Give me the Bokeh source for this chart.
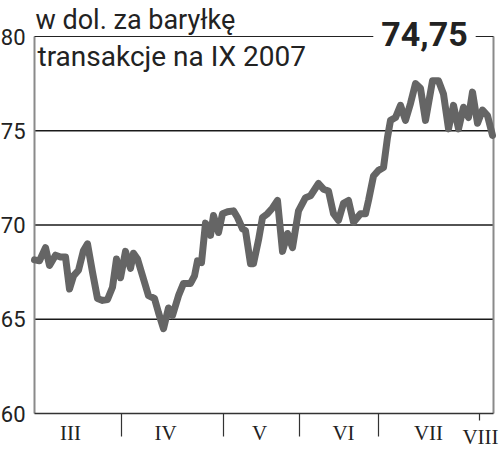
from bokeh.plotting import figure
from bokeh.models import Range1d, Label
from bokeh.embed import file_html
from bokeh.resources import INLINE

# trading-day position (units along the time axis) and price in USD per barrel
days = [0.0, 1.0, 2.2, 3.0, 4.2, 5.2, 6.2, 7.0, 7.8, 8.8, 9.8, 10.6, 11.6, 12.6, 13.6,
        14.6, 15.6, 16.4, 17.2, 18.2, 19.2, 19.8, 20.6, 22.8, 24.0, 24.8, 25.8, 26.8,
        27.6, 28.8, 29.8, 31.2, 32.0, 32.6, 33.4, 34.2, 35.2, 35.8, 36.8, 37.6, 38.6,
        39.8, 40.6, 41.6, 42.2, 43.2, 43.8, 44.8, 45.6, 46.6, 47.6, 48.6, 49.6, 50.6,
        51.6, 52.8, 54.2, 55.2, 56.8, 57.8, 58.8, 59.8, 60.8, 61.8, 62.8, 63.8, 65.2,
        66.2, 66.8, 67.8, 68.8, 69.8, 70.6, 71.2, 72.2, 73.2, 74.2, 75.2, 76.2, 77.2,
        78.2, 79.6, 80.8, 81.8, 82.8, 83.8, 84.8, 85.8, 86.8, 87.6, 88.6, 89.6, 90.6,
        91.6]
prices = [68.15, 68.1, 68.8, 67.85, 68.4, 68.3, 68.3, 66.6, 67.3, 67.6, 68.65, 69.0,
          67.5, 66.1, 66.0, 66.05, 66.7, 68.2, 67.2, 68.6, 67.7, 68.5, 68.2, 66.25, 66.1,
          65.35, 64.5, 65.6, 65.2, 66.25, 66.9, 66.9, 67.3, 68.1, 68.0, 70.1, 69.45, 70.5,
          69.6, 70.6, 70.7, 70.75, 70.4, 69.8, 69.7, 67.95, 67.95, 69.2, 70.4, 70.6, 70.9,
          71.3, 68.6, 69.55, 68.8, 70.75, 71.45, 71.55, 72.2, 71.9, 71.8, 70.6, 70.25,
          71.15, 71.3, 70.15, 70.6, 70.6, 71.3, 72.6, 72.9, 73.05, 74.65, 75.55, 75.7,
          76.35, 75.55, 76.45, 77.5, 77.25, 75.55, 77.65, 77.65, 76.95, 75.1, 76.35, 75.1,
          76.25, 75.7, 77.05, 75.4, 76.1, 75.8, 74.75]

month_labels = ["III", "IV", "V", "VI", "VII", "VIII"]
month_label_x = [7.2, 26.2, 45.0, 61.8, 78.8, 89.2]
month_bounds = [17.4, 37.8, 53.0, 68.8, 89.0]
y_ticks = [60, 65, 70, 75, 80]
grid_values = [65, 70, 75]
last_value = "74,75"
title_line1 = "w dol. za baryłkę"
title_line2 = "transakcje na IX 2007"

X_MIN, X_MAX = 0.0, 91.8
Y_MIN, Y_MAX = 60, 80

W, H = 500, 449
LEFT, RIGHT, TOP, BOTTOM = 34, 493, 36, 413      # plot box inside the canvas (px)
PX_X = (RIGHT - LEFT) / (X_MAX - X_MIN)
PX_Y = (BOTTOM - TOP) / (Y_MAX - Y_MIN)

x_start = X_MIN - LEFT / PX_X
x_end = X_MAX + (W - RIGHT) / PX_X
y_end = Y_MAX + TOP / PX_Y
y_start = Y_MIN - (H - BOTTOM) / PX_Y


def sx(px):
    return X_MIN + (px - LEFT) / PX_X


def sy(py):
    return Y_MAX - (py - TOP) / PX_Y


p = figure(width=W, height=H, x_range=Range1d(x_start, x_end), y_range=Range1d(y_start, y_end),
           x_axis_type=None, y_axis_type=None, output_backend="svg",
           toolbar_location=None, min_border=0, min_border_left=0, min_border_right=0,
           min_border_top=0, min_border_bottom=0)
p.outline_line_color = None
p.background_fill_color = "white"
p.border_fill_color = "white"

# grid lines
p.segment(x0=[X_MIN] * len(grid_values), x1=[X_MAX] * len(grid_values),
          y0=grid_values, y1=grid_values, line_color="#1a1a1a", line_width=1.5)

# frame borders: left & right (gray), top (dark), bottom axis (dark)
p.segment(x0=[X_MIN, X_MAX], x1=[X_MIN, X_MAX], y0=[Y_MIN, Y_MIN], y1=[Y_MAX, Y_MAX],
          line_color="#8a8a8a", line_width=2)
p.segment(x0=[X_MIN], x1=[X_MAX], y0=[Y_MAX], y1=[Y_MAX], line_color="#222222", line_width=1.2)
p.segment(x0=[X_MIN], x1=[X_MAX], y0=[Y_MIN], y1=[Y_MIN], line_color="#333333", line_width=1.5)

# month boundary ticks (last one short)
tick_len = [23 / PX_Y] * (len(month_bounds) - 1) + [7 / PX_Y]
p.segment(x0=month_bounds, x1=month_bounds, y0=[Y_MIN] * len(month_bounds),
          y1=[Y_MIN - t for t in tick_len], line_color="#333333", line_width=1.2)

# price line
p.line(days, prices, line_color="#656565", line_width=7, line_join="round", line_cap="round")

# y tick labels
for v in y_ticks:
    p.add_layout(Label(x=sx(25), y=v, text=str(v), text_align="right",
                       text_baseline="middle", text_font="Roboto", text_font_size="22px",
                       text_color="#222222"))

# month labels
for lab, xm in zip(month_labels, month_label_x):
    yb = sy(436) if lab == "VIII" else sy(432)
    p.add_layout(Label(x=xm, y=yb, text=lab, text_align="center", text_baseline="alphabetic",
                       text_font="Liberation Serif", text_font_size="21px",
                       text_color="#222222"))

# titles
p.add_layout(Label(x=sx(35), y=sy(19), text=title_line1, text_align="left",
                   text_baseline="alphabetic", text_font="Roboto", text_font_size="27px",
                   text_color="#222222"))
p.add_layout(Label(x=sx(37), y=sy(56), text=title_line2, text_align="left",
                   text_baseline="alphabetic", text_font="Roboto", text_font_size="28px",
                   text_color="#222222"))
p.add_layout(Label(x=sx(424), y=sy(33), text=last_value, text_align="center",
                   text_baseline="alphabetic", text_font="Roboto", text_font_size="34px",
                   text_font_style="bold", text_color="#222222",
                   background_fill_color="white", padding=8))

open("out.html", "w").write(file_html(p, INLINE))
